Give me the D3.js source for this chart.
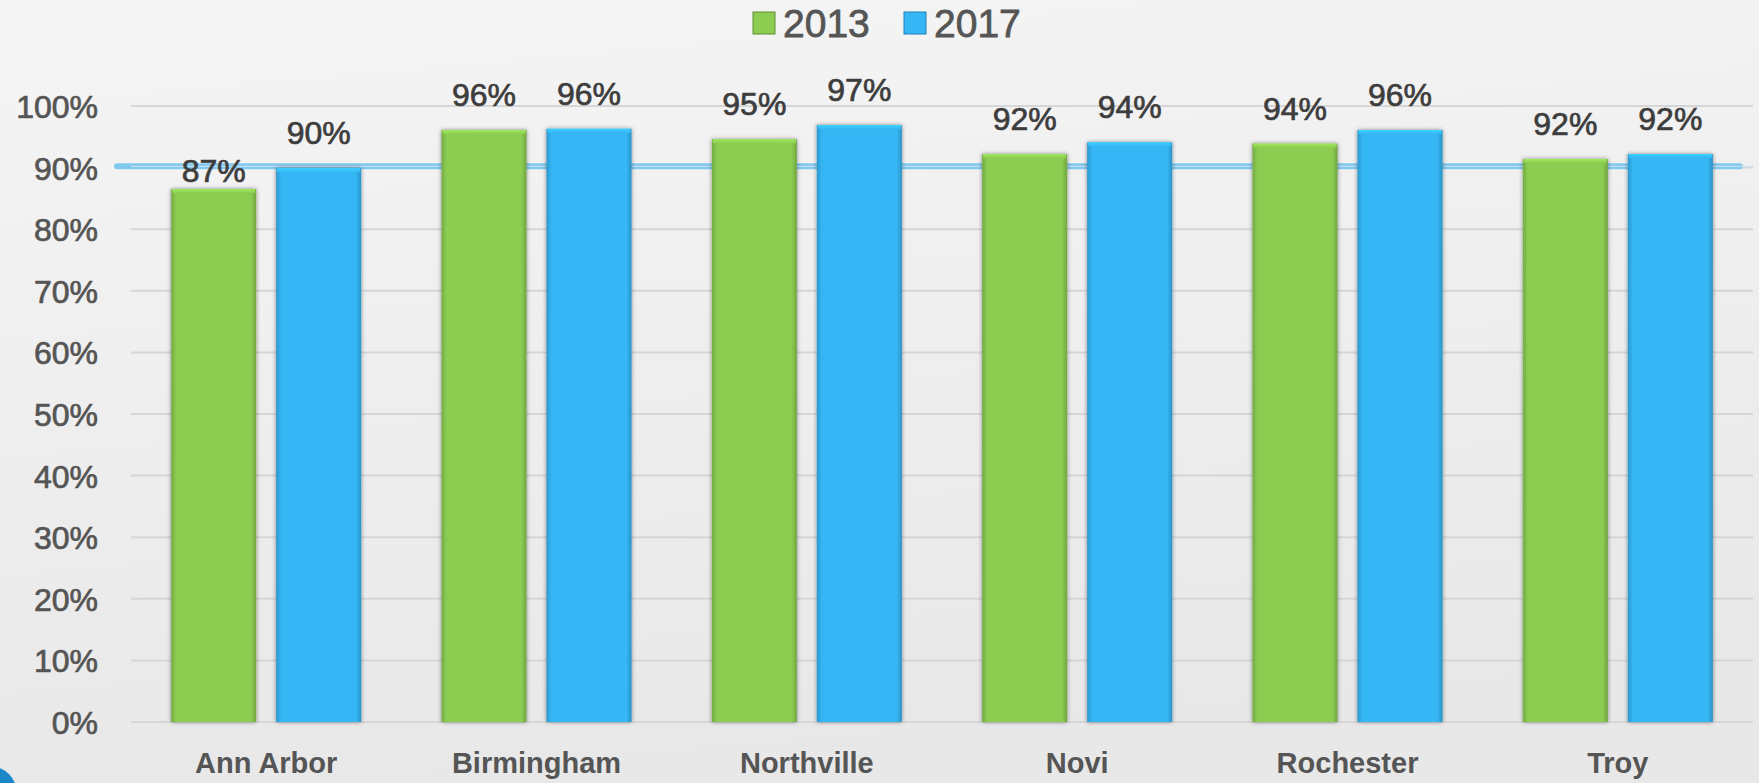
<!DOCTYPE html>
<html>
<head>
<meta charset="utf-8">
<script src="https://cdn.jsdelivr.net/npm/d3@7"></script>
<style>
  html, body { margin: 0; padding: 0; background: #f1f1f1; }
  svg { display: block; }
</style>
</head>
<body>
<svg id="chart" width="1759" height="783"></svg>
<script>
// ---- data ----
const categories = ["Ann Arbor", "Birmingham", "Northville", "Novi", "Rochester", "Troy"];
const seriesNames = ["2013", "2017"];
const values2013 = [0.865, 0.961, 0.946, 0.922, 0.939, 0.914];
const values2017 = [0.899, 0.963, 0.969, 0.941, 0.961, 0.922];
const labels2013 = ["87%", "96%", "95%", "92%", "94%", "92%"];
const labels2017 = ["90%", "96%", "97%", "94%", "96%", "92%"];
const yTicks = [0, 0.1, 0.2, 0.3, 0.4, 0.5, 0.6, 0.7, 0.8, 0.9, 1.0];
const targetValue = 0.902;

// ---- styles ----
const W = 1759, H = 783;
const colors = { "2013": "#8bcc51", "2017": "#35b6f5" };
const edge = { "2013": "#5f8f35", "2017": "#1f7fb3" };
const textGray = "#555555";
const labelGray = "#3d3d3d";
const font = "'Liberation Sans', Arial, sans-serif";

const svg = d3.select("#chart");
const defs = svg.append("defs");

// background gradient
const bg = defs.append("linearGradient").attr("id", "bg").attr("x1", 0).attr("y1", 0).attr("x2", 0.2).attr("y2", 1);
bg.append("stop").attr("offset", "0%").attr("stop-color", "#f5f5f5");
bg.append("stop").attr("offset", "100%").attr("stop-color", "#e8e8e8");
svg.append("rect").attr("width", W).attr("height", H).attr("fill", "url(#bg)");

// decorative corner
svg.append("circle").attr("cx", -8).attr("cy", H + 8).attr("r", 24).attr("fill", "#1b87c9");

// bar gradients
seriesNames.forEach(s => {
  const g = defs.append("linearGradient").attr("id", "g" + s).attr("x1", 0).attr("x2", 1).attr("y1", 0).attr("y2", 0);
  const c = d3.color(colors[s]);
  g.append("stop").attr("offset", "0%").attr("stop-color", c.darker(0.5));
  g.append("stop").attr("offset", "6%").attr("stop-color", c);
  g.append("stop").attr("offset", "94%").attr("stop-color", c);
  g.append("stop").attr("offset", "100%").attr("stop-color", c.darker(0.6));
  const t = defs.append("linearGradient").attr("id", "t" + s).attr("x1", 0).attr("x2", 0).attr("y1", 0).attr("y2", 1);
  t.append("stop").attr("offset", "0%").attr("stop-color", c.brighter(0.4));
  t.append("stop").attr("offset", "100%").attr("stop-color", c);
});
const sh = defs.append("filter").attr("id", "shadow").attr("x", "-20%").attr("y", "-5%").attr("width", "140%").attr("height", "110%");
sh.append("feDropShadow").attr("dx", 0).attr("dy", 0).attr("stdDeviation", 2).attr("flood-color", "#000").attr("flood-opacity", 0.45);

// ---- scales ----
const plotLeft = 131, plotRight = 1753, plotTop = 106, plotBottom = 722;
const y = d3.scaleLinear().domain([0, 1]).range([plotBottom, plotTop]);
const x0 = d3.scaleBand().domain(categories).range([plotLeft, plotRight]).padding(0);
const groupW = x0.bandwidth() * 0.703;
const x1 = d3.scaleBand().domain(seriesNames).range([0, groupW]).paddingInner(0.19).paddingOuter(0);

// ---- gridlines ----
svg.append("g").selectAll("line").data(yTicks).join("line")
  .attr("x1", plotLeft).attr("x2", plotRight)
  .attr("y1", d => y(d)).attr("y2", d => y(d))
  .attr("stroke", "#d6d6d6").attr("stroke-width", 2);

// y axis labels
const yAxis = d3.axisLeft(y).tickValues(yTicks).tickFormat(d3.format(".0%")).tickSize(0).tickPadding(0);
const ya = svg.append("g").attr("transform", "translate(98,0)").call(yAxis);
ya.select(".domain").remove();
ya.selectAll("text").attr("font-family", font).attr("font-size", 32).attr("fill", textGray)
  .attr("stroke", textGray).attr("stroke-width", 0.7).attr("dy", "0.36em");

// target line
svg.append("line")
  .attr("x1", 117).attr("x2", 1740)
  .attr("y1", y(targetValue)).attr("y2", y(targetValue))
  .attr("stroke", "#82c9ef").attr("stroke-width", 6).attr("stroke-linecap", "round");
svg.append("line")
  .attr("x1", plotLeft).attr("x2", plotRight)
  .attr("y1", y(targetValue)).attr("y2", y(targetValue))
  .attr("stroke", "#cfe3ee").attr("stroke-width", 1);

// ---- bars ----
const rows = categories.map((c, i) => ({
  cat: c,
  items: [
    { s: "2013", v: values2013[i], label: labels2013[i] },
    { s: "2017", v: values2017[i], label: labels2017[i] }
  ]
}));
const groupOffset = (x0.bandwidth() - groupW) / 2;
const groups = svg.append("g").selectAll("g").data(rows).join("g")
  .attr("transform", d => `translate(${x0(d.cat) + groupOffset},0)`);

groups.selectAll("rect.bar").data(d => d.items).join("rect")
  .attr("class", "bar")
  .attr("x", d => x1(d.s)).attr("width", x1.bandwidth())
  .attr("y", d => y(d.v)).attr("height", d => y(0) - y(d.v))
  .attr("fill", d => `url(#g${d.s})`)
  .attr("filter", "url(#shadow)");
groups.selectAll("rect.top").data(d => d.items).join("rect")
  .attr("class", "top")
  .attr("x", d => x1(d.s) + 1).attr("width", x1.bandwidth() - 2)
  .attr("y", d => y(d.v)).attr("height", 4)
  .attr("fill", d => `url(#t${d.s})`);

// data labels
const labelGap = (d, cat) => (cat === "Ann Arbor" && d.s === "2013") ? 7 : 24;
groups.each(function (row) {
  d3.select(this).selectAll("text").data(row.items).join("text")
    .attr("x", d => x1(d.s) + x1.bandwidth() / 2)
    .attr("y", d => y(d.v) - labelGap(d, row.cat))
    .attr("text-anchor", "middle")
    .attr("font-family", font).attr("font-size", 32)
    .attr("fill", labelGray).attr("stroke", labelGray).attr("stroke-width", 0.7)
    .text(d => d.label);
});

// x axis labels
const xAxis = d3.axisBottom(x0).tickSize(0).tickPadding(0);
const xa = svg.append("g").attr("transform", `translate(0,${plotBottom})`).call(xAxis);
xa.select(".domain").remove();
xa.selectAll("text").attr("font-family", font).attr("font-size", 29).attr("font-weight", "bold")
  .attr("fill", textGray).attr("dy", 0).attr("y", 51);

// ---- legend ----
const legendX = { "2013": 753, "2017": 904 };
const lg = svg.append("g").selectAll("g").data(seriesNames).join("g")
  .attr("transform", d => `translate(${legendX[d]},12)`);
lg.append("rect").attr("width", 22).attr("height", 22)
  .attr("fill", d => colors[d]).attr("stroke", d => edge[d]).attr("stroke-width", 1);
lg.append("text").attr("x", 30).attr("y", 25).attr("font-family", font).attr("font-size", 39)
  .attr("fill", textGray).attr("stroke", textGray).attr("stroke-width", 0.8).text(d => d);
</script>
</body>
</html>
